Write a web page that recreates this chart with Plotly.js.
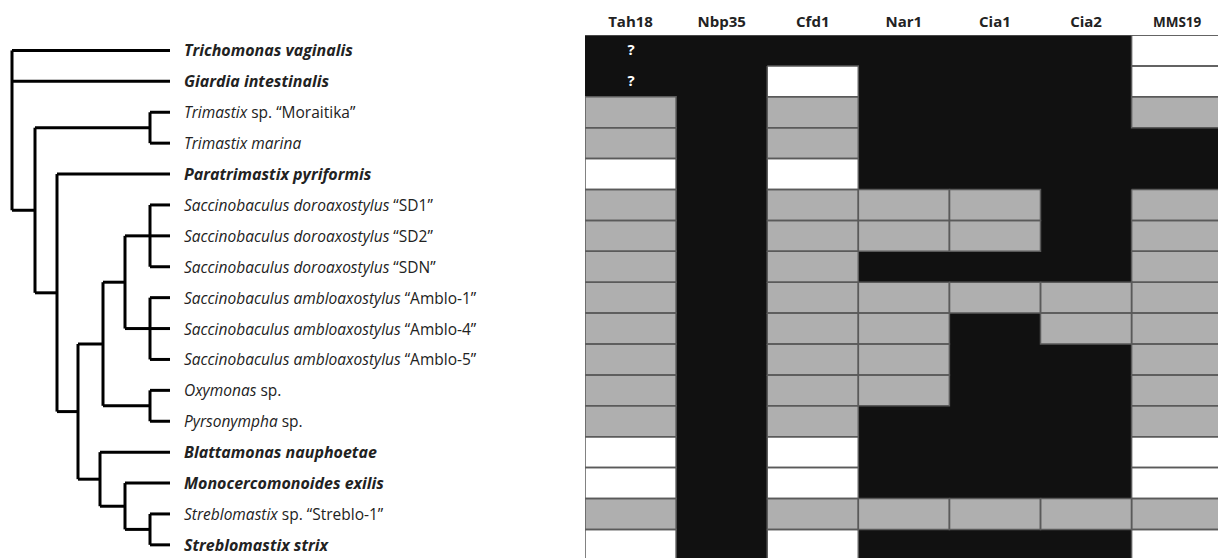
<!DOCTYPE html>
<html>
<head>
<meta charset="utf-8">
<script src="https://cdn.plot.ly/plotly-3.0.1.min.js"></script>
<style>html,body{margin:0;padding:0;background:#fff;}#chart{width:1218px;height:558px;}</style>
</head>
<body>
<div id="chart"></div>
<script>
// ---------- DATA ----------
const genes = ['Tah18', 'Nbp35', 'Cfd1', 'Nar1', 'Cia1', 'Cia2', 'MMS19'];

const taxa = [
  '<b><i>Trichomonas vaginalis</i></b>',
  '<b><i>Giardia intestinalis</i></b>',
  '<i>Trimastix</i> sp. “Moraitika”',
  '<i>Trimastix marina</i>',
  '<b><i>Paratrimastix pyriformis</i></b>',
  '<i>Saccinobaculus doroaxostylus</i> “SD1”',
  '<i>Saccinobaculus doroaxostylus</i> “SD2”',
  '<i>Saccinobaculus doroaxostylus</i> “SDN”',
  '<i>Saccinobaculus ambloaxostylus</i> “Amblo-1”',
  '<i>Saccinobaculus ambloaxostylus</i> “Amblo-4”',
  '<i>Saccinobaculus ambloaxostylus</i> “Amblo-5”',
  '<i>Oxymonas</i> sp.',
  '<i>Pyrsonympha</i> sp.',
  '<b><i>Blattamonas nauphoetae</i></b>',
  '<b><i>Monocercomonoides exilis</i></b>',
  '<i>Streblomastix</i> sp. “Streblo-1”',
  '<b><i>Streblomastix strix</i></b>'
];

// 0 = absent (white), 1 = grey, 2 = present (black); columns follow `genes`
const presence = [
  [2, 2, 2, 2, 2, 2, 0],
  [2, 2, 0, 2, 2, 2, 0],
  [1, 2, 1, 2, 2, 2, 1],
  [1, 2, 1, 2, 2, 2, 2],
  [0, 2, 0, 2, 2, 2, 2],
  [1, 2, 1, 1, 1, 2, 1],
  [1, 2, 1, 1, 1, 2, 1],
  [1, 2, 1, 2, 2, 2, 1],
  [1, 2, 1, 1, 1, 1, 1],
  [1, 2, 1, 1, 2, 1, 1],
  [1, 2, 1, 1, 2, 2, 1],
  [1, 2, 1, 1, 2, 2, 1],
  [1, 2, 1, 2, 2, 2, 1],
  [0, 2, 0, 2, 2, 2, 0],
  [0, 2, 0, 2, 2, 2, 0],
  [1, 2, 1, 1, 1, 1, 1],
  [0, 2, 0, 2, 2, 2, 0]
];

const cellNotes = [
  ['?', '', '', '', '', '', ''],
  ['?', '', '', '', '', '', '']
];

// cladogram: internal nodes, their parent and depth (tree units)
const nodeNames  = ['root', 'A', 'Trim', 'B', 'C', 'D', 'F', 'SD', 'Amb', 'OxP', 'E', 'G', 'Str'];
const nodeParent = [null, 'root', 'A', 'A', 'B', 'C', 'D', 'F', 'F', 'D', 'C', 'E', 'G'];
const nodeDepth  = [12, 35, 150, 57, 78, 103, 125, 150, 150, 150, 100, 125, 150];
// parent node of each taxon (same order as `taxa`)
const taxonParent = ['root', 'root', 'Trim', 'Trim', 'B', 'SD', 'SD', 'SD', 'Amb', 'Amb', 'Amb',
                     'OxP', 'OxP', 'E', 'G', 'Str', 'Str'];
const tipDepth = 170;

// ---------- BUILD ----------
const FONT = '"Open Sans", "Noto Sans", sans-serif';
const rowIdx = taxa.map((_, i) => i);
const colIdx = genes.map((_, i) => i);

const zText = presence.map((r, i) => r.map((_, j) => (cellNotes[i] ? cellNotes[i][j] : '')));

const heat = {
  type: 'heatmap',
  x: colIdx, y: rowIdx, z: presence,
  text: zText, texttemplate: '<b>%{text}</b>',
  textfont: {color: '#ffffff', size: 15, family: FONT},
  zmin: 0, zmax: 2,
  colorscale: [[0, '#ffffff'], [0.25, '#ffffff'], [0.25, '#afafaf'], [0.75, '#afafaf'], [0.75, '#111111'], [1, '#111111']],
  showscale: false, hoverinfo: 'skip',
  xaxis: 'x', yaxis: 'y'
};

// outlines around non-black cells
const bx = [], by = [];
presence.forEach((row, i) => row.forEach((v, j) => {
  if (v !== 2) {
    bx.push(j - 0.5, j + 0.5, j + 0.5, j - 0.5, j - 0.5, null);
    by.push(i - 0.5, i - 0.5, i + 0.5, i + 0.5, i - 0.5, null);
  }
}));
bx.push(-0.5, genes.length - 0.5, null);
by.push(-0.5, -0.5, null);
const borders = {
  type: 'scatter', mode: 'lines', x: bx, y: by,
  line: {color: '#5a5a5a', width: 1.5},
  hoverinfo: 'skip', showlegend: false, xaxis: 'x', yaxis: 'y'
};

// tree layout
const children = {};
nodeNames.forEach(n => children[n] = []);
nodeNames.forEach((n, k) => { if (nodeParent[k]) children[nodeParent[k]].push({type: 'node', name: n}); });
taxonParent.forEach((p, i) => children[p].push({type: 'leaf', idx: i}));
const nodeY = {};
function yOf(c) { return c.type === 'leaf' ? c.idx : computeY(c.name); }
function computeY(n) {
  if (nodeY[n] !== undefined) return nodeY[n];
  const ys = children[n].map(yOf);
  nodeY[n] = (Math.min(...ys) + Math.max(...ys)) / 2;
  return nodeY[n];
}
const depthOf = n => nodeDepth[nodeNames.indexOf(n)];
const tx = [], ty = [];
nodeNames.forEach(n => {
  const ys = children[n].map(yOf);
  const d = depthOf(n);
  tx.push(d, d, null); ty.push(Math.min(...ys), Math.max(...ys), null);
  children[n].forEach(c => {
    const cy = yOf(c);
    const cd = c.type === 'leaf' ? tipDepth : depthOf(c.name);
    tx.push(d, cd, null); ty.push(cy, cy, null);
  });
});
const tree = {
  type: 'scatter', mode: 'lines', x: tx, y: ty,
  line: {color: '#000000', width: 3, shape: 'linear'},
  hoverinfo: 'skip', showlegend: false, xaxis: 'x2', yaxis: 'y'
};

const labelAnn = taxa.map((t, i) => ({
  xref: 'x2', yref: 'y', x: tipDepth + 12, y: i, text: t,
  xanchor: 'left', yanchor: 'middle', showarrow: false,
  font: {family: FONT, size: t.startsWith('<b>') ? 16 : 15.5, color: '#222222'}
}));

const W = 1218, H = 558;
const hmLeft = 585, colW = 91.1, hmTop = 35, rowH = 30.9;
const xMax = -0.5 + (W - hmLeft) / colW;
const yMax = -0.5 + (H - hmTop) / rowH;

const layout = {
  width: W, height: H,
  margin: {l: 0, r: 0, t: 0, b: 0},
  paper_bgcolor: '#ffffff', plot_bgcolor: '#ffffff',
  showlegend: false,
  xaxis: {
    domain: [hmLeft / W, 1], range: [-0.5, xMax], side: 'top',
    tickmode: 'array', tickvals: colIdx,
    ticktext: genes.map((g, i) => i === genes.length - 1
      ? '<b><span style="font-size:13.5px">' + g + '</span></b>' : '<b>' + g + '</b>'),
    tickfont: {family: FONT, size: 15, color: '#222222'},
    ticks: '', showgrid: false, zeroline: false, showline: false,
    ticklabelstandoff: 4, fixedrange: true
  },
  yaxis: {
    domain: [0, 1 - hmTop / H], range: [yMax, -0.5],
    showticklabels: false, ticks: '', showgrid: false, zeroline: false, showline: false, fixedrange: true
  },
  xaxis2: {
    domain: [0, hmLeft / W], range: [0, hmLeft], anchor: 'y',
    visible: false, showgrid: false, zeroline: false, fixedrange: true
  },
  annotations: labelAnn
};

Plotly.newPlot('chart', [heat, borders, tree], layout, {displayModeBar: false, staticPlot: true});
</script>
</body>
</html>
